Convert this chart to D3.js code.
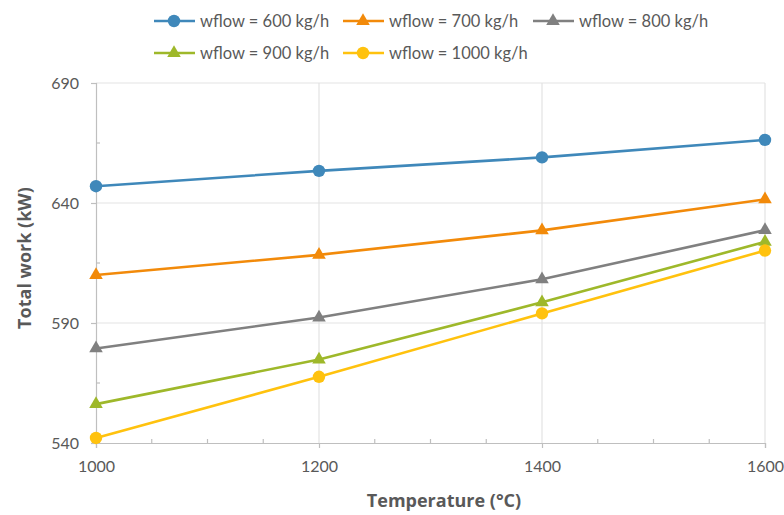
<!DOCTYPE html>
<html>
<head>
<meta charset="utf-8">
<script src="https://cdn.jsdelivr.net/npm/d3@7/dist/d3.min.js"></script>
<style>
  html, body { margin: 0; padding: 0; background: #fff; }
  svg { display: block; font-family: Lato, "Open Sans", sans-serif; }
</style>
</head>
<body>
<svg id="chart" width="784" height="515"></svg>
<script>
// Temperature (°C) along the x axis
const temperatures = [1000, 1200, 1400, 1600];

// Total work (kW) for each water flow rate
const work600  = [647.0, 653.4, 659.0, 666.3];
const work700  = [610.0, 618.4, 628.6, 641.5];
const work800  = [579.4, 592.3, 608.2, 628.7];
const work900  = [556.2, 574.8, 598.6, 623.8];
const work1000 = [542.1, 567.6, 594.0, 620.2];

const seriesNames   = ["wflow = 600 kg/h", "wflow = 700 kg/h", "wflow = 800 kg/h", "wflow = 900 kg/h", "wflow = 1000 kg/h"];
const seriesColors  = ["#3F88BA", "#F28A0A", "#808080", "#9EB82A", "#FFC20E"];
const seriesMarkers = ["circle", "triangle", "triangle", "triangle", "circle"];

const xTicks = [1000, 1200, 1400, 1600];
const xMinorTicks = [1050, 1100, 1150, 1250, 1300, 1350, 1450, 1500, 1550];
const yTicks = [540, 590, 640, 690];
const yMinorTicks = [565, 615, 665];

const seriesValues = [work600, work700, work800, work900, work1000];
const series = seriesNames.map((name, i) => ({
  name, color: seriesColors[i], marker: seriesMarkers[i],
  points: temperatures.map((t, j) => ({ t, v: seriesValues[i][j] }))
}));

const svg = d3.select("#chart");
const margin = { left: 96, right: 19, top: 83, bottom: 72 };
const W = 784, H = 515;

const x = d3.scaleLinear().domain([1000, 1600]).range([margin.left, W - margin.right]);
const y = d3.scaleLinear().domain([540, 690]).range([H - margin.bottom, margin.top]);

const gridColor = "#E3E3E3";
const axisColor = "#BFBFBF";
const textColor = "#595959";

// gridlines
svg.append("g").selectAll("line.hg").data(yTicks.slice(1)).join("line")
  .attr("x1", x(1000)).attr("x2", x(1600))
  .attr("y1", d => y(d)).attr("y2", d => y(d))
  .attr("stroke", gridColor).attr("stroke-width", 1.2);
svg.append("g").selectAll("line.vg").data(xTicks.slice(1)).join("line")
  .attr("x1", d => x(d)).attr("x2", d => x(d))
  .attr("y1", y(690)).attr("y2", y(540))
  .attr("stroke", gridColor).attr("stroke-width", 1.2);

// y axis: major ticks outward, minor ticks inward
const yAxis = svg.append("g").attr("transform", `translate(${x(1000)},0)`)
  .call(d3.axisLeft(y).tickValues(yTicks).tickSize(5).tickPadding(12).tickFormat(d3.format("d")));
yAxis.selectAll(".domain").attr("stroke", axisColor).attr("stroke-width", 1.2);
yAxis.selectAll(".tick line").attr("stroke", axisColor).attr("stroke-width", 1.2);
yAxis.selectAll(".tick text").attr("fill", textColor).style("font-size", "16px").style("font-family", "Lato, sans-serif");
svg.append("g").selectAll("line").data(yMinorTicks).join("line")
  .attr("x1", x(1000)).attr("x2", x(1000) + 4)
  .attr("y1", d => y(d)).attr("y2", d => y(d))
  .attr("stroke", axisColor).attr("stroke-width", 1.2);

// x axis: major ticks outward, minor ticks inward
const xAxis = svg.append("g").attr("transform", `translate(0,${y(540)})`)
  .call(d3.axisBottom(x).tickValues(xTicks).tickSize(5).tickPadding(13).tickFormat(d3.format("d")));
xAxis.selectAll(".domain").attr("stroke", axisColor).attr("stroke-width", 1.2);
xAxis.selectAll(".tick line").attr("stroke", axisColor).attr("stroke-width", 1.2);
xAxis.selectAll(".tick text").attr("fill", textColor).style("font-size", "16px").style("font-family", "Lato, sans-serif");
svg.append("g").selectAll("line").data(xMinorTicks).join("line")
  .attr("x1", d => x(d)).attr("x2", d => x(d))
  .attr("y1", y(540)).attr("y2", y(540) - 4)
  .attr("stroke", axisColor).attr("stroke-width", 1.2);

// axis titles
svg.append("text").attr("x", 444).attr("y", 507)
  .attr("text-anchor", "middle").attr("fill", textColor)
  .style("font-family", "'Open Sans', sans-serif")
  .style("font-size", "18px").style("font-weight", "bold").text("Temperature (°C)");
svg.append("text")
  .attr("transform", `translate(31,258) rotate(-90)`)
  .attr("text-anchor", "middle").attr("fill", textColor)
  .style("font-family", "'Open Sans', sans-serif")
  .style("font-size", "18px").style("font-weight", "bold").text("Total work (kW)");

const triangle = d3.symbol().type(d3.symbolTriangle).size(80);
function drawMarker(g, s) {
  if (s.marker === "circle") {
    g.append("circle").attr("r", 6.2).attr("fill", s.color);
  } else {
    g.append("path").attr("d", triangle()).attr("fill", s.color);
  }
}

// lines and markers
const line = d3.line().x(d => x(d.t)).y(d => y(d.v));
series.forEach(s => {
  svg.append("path").datum(s.points).attr("d", line)
    .attr("fill", "none").attr("stroke", s.color).attr("stroke-width", 2.6);
  s.points.forEach(p => {
    const g = svg.append("g").attr("transform", `translate(${x(p.t)},${y(p.v)})`);
    drawMarker(g, s);
  });
});

// legend
const legendPos = [[154, 21], [343, 21], [533, 21], [154, 53], [343, 53]];
series.forEach((s, i) => {
  const [lx, ly] = legendPos[i];
  const g = svg.append("g").attr("transform", `translate(${lx},${ly})`);
  g.append("line").attr("x1", 0).attr("x2", 41).attr("y1", 0).attr("y2", 0)
    .attr("stroke", s.color).attr("stroke-width", 2.6);
  const m = g.append("g").attr("transform", "translate(20,0)");
  drawMarker(m, s);
  g.append("text").attr("x", 46).attr("y", 6).attr("fill", textColor)
    .style("font-size", "16.5px").text(s.name);
});
</script>
</body>
</html>
